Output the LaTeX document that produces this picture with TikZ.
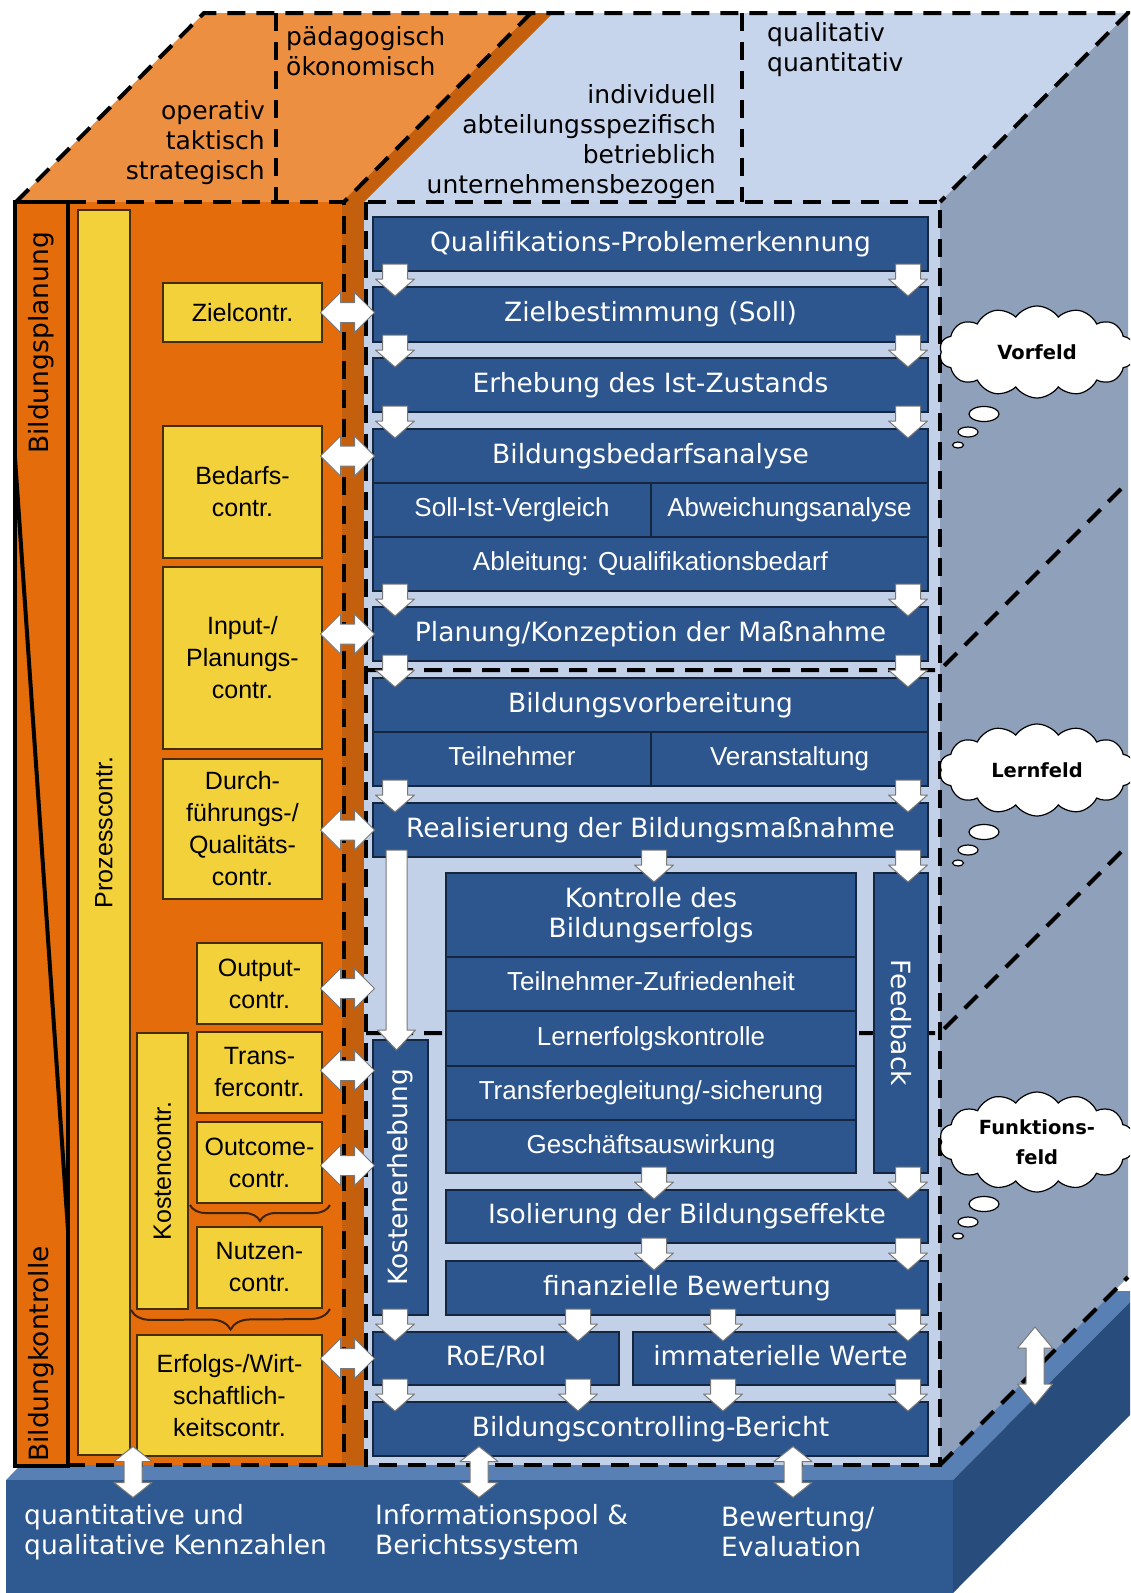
\documentclass[tikz,border=0pt]{standalone}
\usepackage{fontspec}
\setmainfont{DejaVu Sans}
\newfontfamily\thinfont{Liberation Sans}
\usetikzlibrary{calc,shapes.symbols,decorations.pathreplacing}
\definecolor{orangefront}{RGB}{228,108,10}
\definecolor{orangetop}{RGB}{236,143,64}
\definecolor{orangeside}{RGB}{196,95,14}
\definecolor{yellowfill}{RGB}{242,209,58}
\definecolor{yellowline}{RGB}{70,45,10}
\definecolor{frontblue}{RGB}{194,209,232}
\definecolor{topblue}{RGB}{198,213,235}
\definecolor{sidegrey}{RGB}{143,160,186}
\definecolor{boxblue}{RGB}{46,86,142}
\definecolor{boxline}{RGB}{20,38,64}
\definecolor{slabfront}{RGB}{46,89,145}
\definecolor{slabtop}{RGB}{88,128,180}
\definecolor{slabside}{RGB}{40,76,124}
\definecolor{arrowgrey}{RGB}{120,120,120}
\definecolor{bracebrown}{RGB}{60,35,10}
\tikzset{
    cube-dash/.style = {draw=black, line width=4pt, dash pattern=on 18pt off 11pt},
    plan-column/.style = {draw=black, fill=orangefront, line width=4pt, rectangle, anchor=north west, inner sep=0pt, outer sep=0pt},
    yellow-box/.style = {draw=yellowline, fill=yellowfill, line width=1.5pt, rectangle, anchor=north west, inner sep=0pt, outer sep=0pt, align=center, font=\thinfont\fontsize{25}{32}\selectfont},
    blue-base/.style = {draw=boxline, fill=boxblue, text=white, line width=1.5pt, rectangle, anchor=north west, inner sep=0pt, outer sep=0pt, align=center, font=\fontsize{26.5}{30}\selectfont},
    blue-box/.style = {blue-base, text height=20pt, text depth=6pt},
    blue-row/.style = {blue-base, text height=19pt, text depth=5.5pt, font=\thinfont\fontsize{26}{30}\selectfont},
    col-label/.style = {rotate=90, inner sep=0pt, font=\fontsize{26.5}{30}\selectfont},
    blue-label/.style = {inner sep=0pt, text=white, font=\fontsize{26.5}{30}\selectfont},
    yellow-label/.style = {rotate=90, inner sep=0pt, font=\thinfont\fontsize{25}{30}\selectfont},
    top-label/.style = {inner sep=0pt, font=\fontsize{25}{30}\selectfont},
    base-label/.style = {anchor=west, inner sep=0pt, align=left, text=white, font=\fontsize{26.5}{29.5}\selectfont},
    thought/.style = {cloud, cloud puffs=14, cloud puff arc=110, aspect=2.1, draw=black, fill=white, line width=1.2pt, minimum width=195pt, minimum height=92pt, align=center, inner sep=0pt, font=\bfseries\fontsize{19.5}{30}\selectfont},
    bubble/.style = {draw=black, fill=white, line width=1.2pt},
    block-arrow/.style = {draw=arrowgrey, fill=white, line width=1pt, line join=round},
    brace-line/.style = {decorate, decoration={brace, amplitude=16pt}, draw=bracebrown, line width=2pt},
    down-arrow/.pic = {\draw[block-arrow] (0,0) -- (-19.5,-17) -- (-12.5,-17) -- (-12.5,-32) -- (12.5,-32) -- (12.5,-17) -- (19.5,-17) -- cycle;},
    both-arrow/.pic = {\draw[block-arrow] (-27,0) -- (-7,-20) -- (-7,-10) -- (7,-10) -- (7,-20) -- (27,0) -- (7,20) -- (7,10) -- (-7,10) -- (-7,20) -- cycle;},
    updown-arrow/.pic = {\draw[block-arrow] (0,-25.5) -- (19,-10.5) -- (9,-10.5) -- (9,10.5) -- (19,10.5) -- (0,25.5) -- (-19,10.5) -- (-9,10.5) -- (-9,-10.5) -- (-19,-10.5) -- cycle;},
    long-updown-arrow/.pic = {\draw[block-arrow] (0,-39) -- (17.5,-18) -- (9,-18) -- (9,18) -- (17.5,18) -- (0,39) -- (-17.5,18) -- (-9,18) -- (-9,-18) -- (-17.5,-18) -- cycle;},
}
\begin{document}
\begin{tikzpicture}[x=1pt, y=-1pt]
\useasboundingbox (0,0) rectangle (1130,1593);
\clip (0,0) rectangle (1130,1593);
\fill[white] (0,0) rectangle (1130,1593);

\fill[slabtop] (6,1480) -- (194,1291) -- (1141,1291) -- (953,1480) -- cycle;
\fill[slabside] (953,1480) -- (1141,1291) -- (1141,1404) -- (953,1593) -- cycle;
\fill[slabfront] (6,1480) rectangle (953,1600);

\fill[sidegrey] (940,202) -- (1128,13) -- (1128,1277) -- (940,1465) -- cycle;
\fill[topblue] (364,202) -- (553,13) -- (1128,13) -- (940,202) -- cycle;
\fill[orangeside] (340,202) -- (531,13) -- (553,13) -- (364,202) -- (364,1465) -- (340,1465) -- cycle;
\fill[orangetop] (16,202) -- (204,13) -- (531,13) -- (342,202) -- cycle;
\fill[orangefront] (16,202) rectangle (342,1465);
\fill[frontblue] (364,202) rectangle (940,1465);

\draw[cube-dash] (16,202) -- (204,13) -- (1128,13) -- (940,202);
\draw[cube-dash] (68,202) -- (344,202) -- (344,1465) -- (68,1465);
\draw[cube-dash] (531,13) -- (344,202);
\draw[cube-dash] (276,13) -- (276,202);
\draw[cube-dash] (742,13) -- (742,202);
\draw[cube-dash] (366,202) rectangle (940,1465);
\draw[cube-dash] (366,670) -- (940,670) -- (1128,482);
\draw[cube-dash] (366,1033) -- (940,1033) -- (1128,845);
\draw[cube-dash] (940,1465) -- (1128,1277);

\node[top-label, anchor=west, align=left] (paed) at (286,51) {pädagogisch\\ökonomisch};
\node[top-label, anchor=east, align=right] (oper) at (265,143) {operativ\\taktisch\\strategisch};
\node[top-label, anchor=east, align=right] (indiv) at (716,142) {individuell\\abteilungsspezifisch\\betrieblich\\unternehmensbezogen};
\node[top-label, anchor=west, align=left] (qual) at (767,50) {qualitativ\\quantitativ};

\node[plan-column, minimum width=53pt, minimum height=1264pt] (planspalte) at (15,202) {};
\draw[line width=4pt] ($(planspalte.north west)+(0,256)$) -- ($(planspalte.south east)+(0,-236)$);
\node[col-label] (planlabel) at (41.5,343) {Bildungsplanung};
\node[col-label] (kontrlabel) at (41.5,1354) {Bildungkontrolle};

\node[yellow-box, minimum width=52pt, minimum height=1245pt] (prozess) at (78,210) {};
\node[yellow-label] (prozesslabel) at (prozess.center) {Prozesscontr.};
\node[yellow-box, minimum width=159pt, minimum height=59pt] (zielc) at (163,283) {Zielcontr.};
\node[yellow-box, minimum width=159pt, minimum height=132pt] (bedc) at (163,426) {Bedarfs-\\contr.};
\node[yellow-box, minimum width=159pt, minimum height=182pt] (inputc) at (163,567) {Input-/\\Planungs-\\contr.};
\node[yellow-box, minimum width=159pt, minimum height=140pt] (durchc) at (163,759) {Durch-\\führungs-/\\Qualitäts-\\contr.};
\node[yellow-box, minimum width=125pt, minimum height=81pt] (outc) at (197,943) {Output-\\contr.};
\node[yellow-box, minimum width=125pt, minimum height=81pt] (transc) at (197,1032) {Trans-\\fercontr.};
\node[yellow-box, minimum width=125pt, minimum height=81pt] (outcc) at (197,1122) {Outcome-\\contr.};
\node[yellow-box, minimum width=125pt, minimum height=81pt] (nutzc) at (197,1227) {Nutzen-\\contr.};
\node[yellow-box, minimum width=51pt, minimum height=276pt] (kostc) at (137,1033) {};
\node[yellow-label] (kostclabel) at (kostc.center) {Kostencontr.};
\node[yellow-box, minimum width=185pt, minimum height=121pt] (erfc) at (137,1335) {Erfolgs-/Wirt-\\schaftlich-\\keitscontr.};
\draw[brace-line] ($(outcc.south east)+(8,2)$) -- ($(outcc.south west)+(-7,2)$);
\draw[brace-line, decoration={amplitude=20pt}] ($(nutzc.south east)+(8,1)$) -- ($(kostc.south west)+(-6,1)$);

\node[blue-box, minimum width=555pt, minimum height=54pt] (qpe) at (373,217) {Qualifikations-Problemerkennung};
\node[blue-box, minimum width=555pt, minimum height=55pt] (ziel) at (373,287) {Zielbestimmung (Soll)};
\node[blue-box, minimum width=555pt, minimum height=54pt] (ist) at (373,358) {Erhebung des Ist-Zustands};
\node[blue-box, minimum width=555pt, minimum height=54pt] (bba) at (373,429) {Bildungsbedarfsanalyse};
\node[blue-row, minimum width=278pt, minimum height=54pt] (sollist) at (373,483) {Soll-Ist-Vergleich};
\node[blue-row, minimum width=277pt, minimum height=54pt] (abw) at (651,483) {Abweichungsanalyse};
\node[blue-row, minimum width=555pt, minimum height=54pt] (abl) at (373,537) {Ableitung: Qualifikationsbedarf};
\node[blue-box, minimum width=555pt, minimum height=54pt] (plan) at (373,607) {Planung/Konzeption der Maßnahme};
\node[blue-box, minimum width=555pt, minimum height=54pt] (bvb) at (373,678) {Bildungsvorbereitung};
\node[blue-row, minimum width=278pt, minimum height=54pt] (tln) at (373,732) {Teilnehmer};
\node[blue-row, minimum width=277pt, minimum height=54pt] (ver) at (651,732) {Veranstaltung};
\node[blue-box, minimum width=555pt, minimum height=54pt] (real) at (373,803) {Realisierung der Bildungsmaßnahme};
\node[blue-base, minimum width=410pt, minimum height=84pt] (kon) at (446,873) {Kontrolle des\\Bildungserfolgs};
\node[blue-row, minimum width=410pt, minimum height=54pt] (zuf) at (446,957) {Teilnehmer-Zufriedenheit};
\node[blue-row, minimum width=410pt, minimum height=55pt] (lern) at (446,1011) {Lernerfolgskontrolle};
\node[blue-row, minimum width=410pt, minimum height=54pt] (transf) at (446,1066) {Transferbegleitung/-sicherung};
\node[blue-row, minimum width=410pt, minimum height=53pt] (gesch) at (446,1120) {Geschäftsauswirkung};
\node[blue-base, minimum width=54pt, minimum height=300pt] (feed) at (874,873) {};
\node[blue-label, rotate=-90] (feedlabel) at (feed.center) {Feedback};
\node[blue-base, minimum width=55pt, minimum height=275pt] (kost) at (373,1040) {};
\node[blue-label, rotate=90] (kostlabel) at (kost.center) {Kostenerhebung};
\node[blue-box, minimum width=482pt, minimum height=53pt] (iso) at (446,1190) {Isolierung der Bildungseffekte};
\node[blue-box, minimum width=482pt, minimum height=54pt] (fin) at (446,1261) {finanzielle Bewertung};
\node[blue-box, minimum width=246pt, minimum height=53pt] (roe) at (373,1332) {RoE/RoI};
\node[blue-box, minimum width=295pt, minimum height=53pt] (imm) at (633,1332) {immaterielle Werte};
\node[blue-box, minimum width=555pt, minimum height=54pt] (ber) at (373,1402) {Bildungscontrolling-Bericht};

\pic at ($(ziel.north west)+(22,9)$) {down-arrow};
\pic at ($(ziel.north east)+(-20,9)$) {down-arrow};
\pic at ($(ist.north west)+(22,9)$) {down-arrow};
\pic at ($(ist.north east)+(-20,9)$) {down-arrow};
\pic at ($(bba.north west)+(22,9)$) {down-arrow};
\pic at ($(bba.north east)+(-20,9)$) {down-arrow};
\pic at ($(plan.north west)+(22,9)$) {down-arrow};
\pic at ($(plan.north east)+(-20,9)$) {down-arrow};
\pic at ($(bvb.north west)+(22,9)$) {down-arrow};
\pic at ($(bvb.north east)+(-20,9)$) {down-arrow};
\pic at ($(real.north west)+(22,9)$) {down-arrow};
\pic at ($(real.north east)+(-20,9)$) {down-arrow};
\pic at ($(kon.north)+(3,9)$) {down-arrow};
\pic at ($(feed.north east)+(-20,9)$) {down-arrow};
\pic at ($(kon.south |- iso.north)+(3,9)$) {down-arrow};
\pic at ($(iso.north east)+(-20,9)$) {down-arrow};
\pic at ($(kon.south |- fin.north)+(3,9)$) {down-arrow};
\pic at ($(fin.north east)+(-20,9)$) {down-arrow};
\pic at ($(roe.north west)+(22,9)$) {down-arrow};
\pic at ($(roe.north east)+(-41,9)$) {down-arrow};
\pic at ($(imm.north west)+(90,9)$) {down-arrow};
\pic at ($(imm.north east)+(-20,9)$) {down-arrow};
\pic at ($(ber.north west)+(22,9)$) {down-arrow};
\pic at ($(roe.north east |- ber.north)+(-41,9)$) {down-arrow};
\pic at ($(imm.north west |- ber.north)+(90,9)$) {down-arrow};
\pic at ($(ber.north east)+(-20,9)$) {down-arrow};
\draw[block-arrow] ($(real.south west)+(13,-7)$) -- ++(21,0) -- ($(kost.north west)+(34,-10)$) -- ++(8.5,0) -- ($(kost.north west)+(23.5,10)$) -- ++(-19,-20) -- ++(8.5,0) -- cycle;

\pic at ($(zielc.east)+(25.5,0)$) {both-arrow};
\pic at ($(bedc.east |- bba.west)+(25.5,0)$) {both-arrow};
\pic at ($(inputc.east |- plan.west)+(25.5,0)$) {both-arrow};
\pic at ($(durchc.east |- real.west)+(25.5,0)$) {both-arrow};
\pic at ($(outc.east)+(25.5,5)$) {both-arrow};
\pic at ($(transc.east)+(25.5,-2)$) {both-arrow};
\pic at ($(outcc.east)+(25.5,3)$) {both-arrow};
\pic at ($(erfc.east |- roe.west)+(25.5,0)$) {both-arrow};

\node[base-label] (kennzahlen) at (24,1532) {quantitative und\\qualitative Kennzahlen};
\node[base-label] (infopool) at (375,1532) {Informationspool \&\\Berichtssystem};
\node[base-label] (bewertung) at (721,1532) {Bewertung/\\Evaluation};
\pic at ($(erfc.south west)+(-4,16)$) {updown-arrow};
\pic at ($(ber.south west)+(106,16)$) {updown-arrow};
\pic at ($(ber.south east)+(-135,16)$) {updown-arrow};
\coordinate (sidepfeil) at (1035,1366);
\pic at (sidepfeil) {long-updown-arrow};

\node[thought] (vorfeld) at (1037,352) {Vorfeld};
\node[thought] (lernfeld) at (1037,770) {Lernfeld};
\node[thought, minimum height=100pt] (funktionsfeld) at (1037,1142) {Funktions-\\feld};
\path[bubble] ($(vorfeld.center)+(-53,62)$) ellipse [x radius=15pt, y radius=7.5pt];
\path[bubble] ($(vorfeld.center)+(-69,80)$) ellipse [x radius=10pt, y radius=5pt];
\path[bubble] ($(vorfeld.center)+(-79,93)$) ellipse [x radius=5.5pt, y radius=3pt];
\path[bubble] ($(lernfeld.center)+(-53,62)$) ellipse [x radius=15pt, y radius=7.5pt];
\path[bubble] ($(lernfeld.center)+(-69,80)$) ellipse [x radius=10pt, y radius=5pt];
\path[bubble] ($(lernfeld.center)+(-79,93)$) ellipse [x radius=5.5pt, y radius=3pt];
\path[bubble] ($(funktionsfeld.center)+(-53,62)$) ellipse [x radius=15pt, y radius=7.5pt];
\path[bubble] ($(funktionsfeld.center)+(-69,80)$) ellipse [x radius=10pt, y radius=5pt];
\path[bubble] ($(funktionsfeld.center)+(-79,94)$) ellipse [x radius=5.5pt, y radius=3pt];
\end{tikzpicture}
\end{document}
